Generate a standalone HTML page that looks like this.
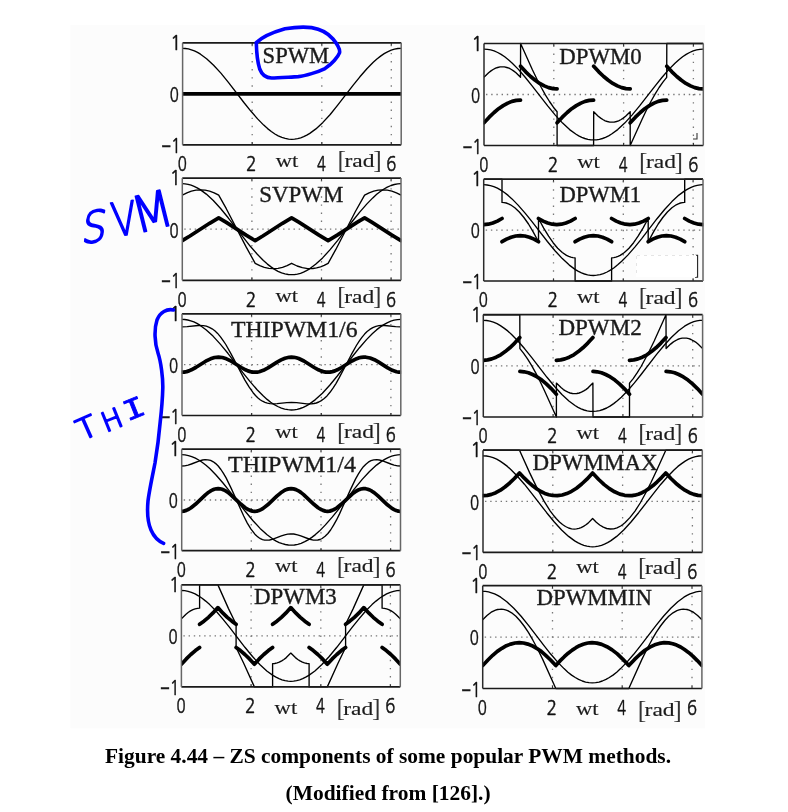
<!DOCTYPE html>
<html><head><meta charset="utf-8"><title>Figure 4.44</title><style>
html,body{margin:0;padding:0;background:#fff;}
svg{display:block;}
.gv{stroke:#777;stroke-width:1.3;stroke-dasharray:1.4 6.7;fill:none;}
.gh{stroke:#777;stroke-width:1.3;stroke-dasharray:1.4 3.8;fill:none;}
.tk{stroke:#333;stroke-width:1.1;}
.th{stroke:#000;stroke-width:1.35;fill:none;stroke-linejoin:round;}
.tc{stroke:#000;stroke-width:3.7;fill:none;stroke-linejoin:round;stroke-linecap:round;}
.bh{stroke:#1a1a1a;stroke-width:1.7;}
.bv{stroke:#666;stroke-width:1.5;}
.bvd{stroke:#2a2a2a;stroke-width:1.5;}
.t{font-family:"Liberation Serif","Times New Roman",serif;font-size:22.3px;fill:#1a1a1a;stroke:#1a1a1a;stroke-width:0.35;}
.n{font-family:"NanumGothic","Liberation Sans",Arial,sans-serif;font-size:20.3px;fill:#111;stroke:#111;stroke-width:0.5;}
.w{font-family:"Liberation Serif","Times New Roman",serif;font-size:18.8px;fill:#1a1a1a;stroke:#1a1a1a;stroke-width:0.15;}
.br{font-family:"Liberation Serif","Times New Roman",serif;font-size:25.5px;fill:#333;}
.cap{font-family:"Liberation Serif","Times New Roman",serif;font-weight:bold;font-size:20.8px;fill:#000;}
.hw{fill:none;stroke:#0000ff;stroke-width:3.6;stroke-linecap:round;stroke-linejoin:round;}
.hwt{font-family:"DejaVu Sans",sans-serif;font-weight:200;fill:#0000ff;stroke:#0000ff;stroke-width:1.8;stroke-linejoin:round;}
.hwm{font-family:"Liberation Mono",monospace;fill:#0000ff;stroke:#0000ff;stroke-width:0.8;stroke-linejoin:round;}
</style></head>
<body><svg width="788" height="812" viewBox="0 0 788 812">
<rect width="788" height="812" fill="#fff"/>
<rect x="70.5" y="25" width="634.5" height="703.3" fill="#fcfcfc"/>
<line x1="252.2" y1="44.8" x2="252.2" y2="143.8" class="gv"/>
<line x1="252.2" y1="42.8" x2="252.2" y2="45.2" class="tk"/>
<line x1="252.2" y1="144.8" x2="252.2" y2="142.3" class="tk"/>
<line x1="321.8" y1="44.8" x2="321.8" y2="143.8" class="gv"/>
<line x1="321.8" y1="42.8" x2="321.8" y2="45.2" class="tk"/>
<line x1="321.8" y1="144.8" x2="321.8" y2="142.3" class="tk"/>
<line x1="391.3" y1="44.8" x2="391.3" y2="143.8" class="gv"/>
<line x1="391.3" y1="42.8" x2="391.3" y2="45.2" class="tk"/>
<line x1="391.3" y1="144.8" x2="391.3" y2="142.3" class="tk"/>
<line x1="184.6" y1="93.8" x2="400.2" y2="93.8" class="gh"/>
<clipPath id="cL0"><rect x="182.3" y="41.2" width="219.2" height="105.1"/></clipPath>
<g clip-path="url(#cL0)">
<path d="M182.6 48.3L185.3 48.5L188.4 48.9L191.4 49.8L194.4 50.9L197.5 52.4L200.5 54.2L206.6 58.7L213.6 65.2L220.9 73.1L228.4 82.4L243.9 102.5L250.6 110.8L257.6 118.9L263.7 125.1L267.6 128.6L271.3 131.5L274.9 134.0L278.2 135.8L281.9 137.4L285.2 138.4L288.6 139.1L291.9 139.3L294.6 139.1L297.7 138.7L300.7 137.8L303.7 136.7L306.8 135.2L309.8 133.4L315.9 128.9L322.9 122.4L330.2 114.5L337.7 105.2L353.2 85.1L359.9 76.8L366.9 68.7L373.0 62.5L376.9 59.0L380.6 56.1L384.2 53.6L387.5 51.8L391.2 50.2L394.5 49.2L397.9 48.5L401.2 48.3" class="th"/>
<path d="M182.6 93.8L401.2 93.8" class="tc"/>
</g>
<line x1="182.6" y1="42.8" x2="401.2" y2="42.8" class="bh"/>
<line x1="182.6" y1="144.8" x2="401.2" y2="144.8" class="bh"/>
<line x1="182.6" y1="42.8" x2="182.6" y2="144.8" class="bv"/>
<line x1="401.2" y1="42.8" x2="401.2" y2="144.8" class="bv"/>
<text x="262.6" y="62.5" textLength="66.5" lengthAdjust="spacingAndGlyphs" class="t">SPWM</text>
<text x="0" y="0" transform="translate(181.2 49.9) scale(0.90 1)" text-anchor="end" class="n">1</text>
<text x="0" y="0" transform="translate(178.8 102.1) scale(0.74 1)" text-anchor="end" class="n">0</text>
<text x="0" y="0" transform="translate(180.8 152.8) scale(0.80 1)" text-anchor="end" class="n">&#8722;1</text>
<text x="0" y="0" transform="translate(182.3 171.2) scale(0.74 1)" text-anchor="middle" class="n">0</text>
<text x="0" y="0" transform="translate(251.4 171.2) scale(0.86 1)" text-anchor="middle" class="n">2</text>
<text x="0" y="0" transform="translate(321.4 171.2) scale(0.72 1)" text-anchor="middle" class="n">4</text>
<text x="0" y="0" transform="translate(391.3 171.2) scale(0.82 1)" text-anchor="middle" class="n">6</text>
<text x="275.8" y="166.8" textLength="22.6" lengthAdjust="spacingAndGlyphs" class="w">wt</text>
<text x="337.6" y="168.4" class="br">[</text>
<text x="344.5" y="166.8" textLength="30" lengthAdjust="spacingAndGlyphs" class="w">rad</text>
<text x="373.2" y="168.4" class="br">]</text>
<line x1="251.9" y1="180.1" x2="251.9" y2="279.3" class="gv"/>
<line x1="251.9" y1="178.1" x2="251.9" y2="180.6" class="tk"/>
<line x1="251.9" y1="280.3" x2="251.9" y2="277.8" class="tk"/>
<line x1="321.5" y1="180.1" x2="321.5" y2="279.3" class="gv"/>
<line x1="321.5" y1="178.1" x2="321.5" y2="180.6" class="tk"/>
<line x1="321.5" y1="280.3" x2="321.5" y2="277.8" class="tk"/>
<line x1="391.1" y1="180.1" x2="391.1" y2="279.3" class="gv"/>
<line x1="391.1" y1="178.1" x2="391.1" y2="180.6" class="tk"/>
<line x1="391.1" y1="280.3" x2="391.1" y2="277.8" class="tk"/>
<line x1="184.3" y1="229.2" x2="400.0" y2="229.2" class="gh"/>
<clipPath id="cL1"><rect x="182.0" y="176.6" width="219.3" height="105.2"/></clipPath>
<g clip-path="url(#cL1)">
<path d="M182.3 183.7L185.0 183.8L188.1 184.3L191.1 185.1L194.1 186.3L197.2 187.8L200.2 189.6L206.3 194.1L213.3 200.5L220.6 208.5L228.2 217.8L243.7 237.9L250.3 246.3L257.3 254.3L263.4 260.5L267.4 264.1L271.0 266.9L274.6 269.4L278.0 271.3L281.6 272.9L285.0 273.9L288.3 274.5L291.6 274.7L294.4 274.6L297.4 274.1L300.5 273.3L303.5 272.1L306.5 270.6L309.6 268.8L315.6 264.3L322.6 257.9L329.9 249.9L337.5 240.6L353.0 220.5L359.7 212.1L366.7 204.1L372.8 197.9L376.7 194.3L380.3 191.5L384.0 189.0L387.3 187.1L391.0 185.5L394.3 184.5L397.7 183.9L401.0 183.7" class="th"/>
<path d="M182.3 195.1L186.9 192.8L191.4 191.1L196.0 190.1L200.5 189.8L205.1 190.1L209.6 191.1L214.2 192.8L218.7 195.1L226.3 208.7L246.1 246.9L255.2 263.3L259.8 265.6L264.3 267.3L268.9 268.3L273.4 268.6L278.0 268.3L282.5 267.3L287.1 265.6L291.6 263.3L297.1 266.0L302.3 267.7L307.7 268.6L312.9 268.5L316.6 267.9L320.5 266.8L324.2 265.4L328.1 263.3L335.7 249.7L355.4 211.5L364.6 195.1L369.1 192.8L373.7 191.1L378.2 190.1L382.8 189.8L387.3 190.1L391.9 191.1L396.4 192.8L401.0 195.1" class="th"/>
<path d="M182.3 240.6L189.9 236.0L209.6 223.3L218.7 217.8L226.3 222.4L246.1 235.1L255.2 240.6L262.8 236.0L282.5 223.3L291.6 217.8L299.2 222.4L319.0 235.1L328.1 240.6L337.2 235.1L357.0 222.4L364.6 217.8L372.1 222.4L391.9 235.1L401.0 240.6" class="tc"/>
</g>
<line x1="182.3" y1="178.1" x2="401.0" y2="178.1" class="bh"/>
<line x1="182.3" y1="280.3" x2="401.0" y2="280.3" class="bh"/>
<line x1="182.3" y1="178.1" x2="182.3" y2="280.3" class="bv"/>
<line x1="401.0" y1="178.1" x2="401.0" y2="280.3" class="bv"/>
<text x="259.3" y="202.1" textLength="84.0" lengthAdjust="spacingAndGlyphs" class="t">SVPWM</text>
<text x="0" y="0" transform="translate(180.9 185.2) scale(0.90 1)" text-anchor="end" class="n">1</text>
<text x="0" y="0" transform="translate(178.5 237.5) scale(0.74 1)" text-anchor="end" class="n">0</text>
<text x="0" y="0" transform="translate(180.5 288.3) scale(0.80 1)" text-anchor="end" class="n">&#8722;1</text>
<text x="0" y="0" transform="translate(182.0 306.7) scale(0.74 1)" text-anchor="middle" class="n">0</text>
<text x="0" y="0" transform="translate(251.1 306.7) scale(0.86 1)" text-anchor="middle" class="n">2</text>
<text x="0" y="0" transform="translate(321.1 306.7) scale(0.72 1)" text-anchor="middle" class="n">4</text>
<text x="0" y="0" transform="translate(391.1 306.7) scale(0.82 1)" text-anchor="middle" class="n">6</text>
<text x="275.5" y="301.8" textLength="22.6" lengthAdjust="spacingAndGlyphs" class="w">wt</text>
<text x="337.3" y="304.2" class="br">[</text>
<text x="344.2" y="302.6" textLength="30" lengthAdjust="spacingAndGlyphs" class="w">rad</text>
<text x="372.9" y="304.2" class="br">]</text>
<line x1="251.6" y1="315.8" x2="251.6" y2="414.5" class="gv"/>
<line x1="251.6" y1="313.8" x2="251.6" y2="316.3" class="tk"/>
<line x1="251.6" y1="415.5" x2="251.6" y2="413.0" class="tk"/>
<line x1="321.3" y1="315.8" x2="321.3" y2="414.5" class="gv"/>
<line x1="321.3" y1="313.8" x2="321.3" y2="316.3" class="tk"/>
<line x1="321.3" y1="415.5" x2="321.3" y2="413.0" class="tk"/>
<line x1="390.9" y1="315.8" x2="390.9" y2="414.5" class="gv"/>
<line x1="390.9" y1="313.8" x2="390.9" y2="316.3" class="tk"/>
<line x1="390.9" y1="415.5" x2="390.9" y2="413.0" class="tk"/>
<line x1="184.0" y1="364.6" x2="399.8" y2="364.6" class="gh"/>
<clipPath id="cL2"><rect x="181.7" y="312.3" width="219.4" height="104.7"/></clipPath>
<g clip-path="url(#cL2)">
<path d="M182.0 319.3L184.7 319.5L187.8 320.0L190.8 320.8L193.9 321.9L196.9 323.4L199.9 325.2L206.0 329.7L213.0 336.1L220.3 344.1L227.9 353.3L243.4 373.3L250.1 381.6L257.1 389.7L263.1 395.8L267.1 399.4L270.7 402.2L274.4 404.7L277.7 406.5L281.4 408.1L284.7 409.1L288.1 409.7L291.4 410.0L294.1 409.8L297.2 409.3L300.2 408.5L303.3 407.4L306.3 405.9L309.3 404.1L315.4 399.6L322.4 393.2L329.7 385.2L337.3 376.0L352.8 356.0L359.5 347.7L366.5 339.6L372.5 333.5L376.5 329.9L380.1 327.1L383.8 324.6L387.1 322.8L390.8 321.2L394.1 320.2L397.5 319.6L400.8 319.3" class="th"/>
<path d="M182.0 326.9L187.2 326.7L198.1 325.5L203.3 325.6L206.3 326.2L209.3 327.3L212.1 328.8L214.8 330.8L217.6 333.4L220.3 336.6L223.0 340.3L225.8 344.5L230.9 353.6L244.9 380.1L249.2 387.2L253.1 392.7L255.5 395.5L257.7 397.7L260.1 399.7L262.5 401.2L265.0 402.4L267.4 403.2L270.1 403.7L273.2 403.9L277.1 403.7L286.8 402.6L291.4 402.4L296.6 402.6L306.9 403.8L311.5 403.8L313.9 403.5L316.3 403.0L318.8 402.0L320.9 400.9L323.9 398.7L327.0 395.9L330.0 392.3L333.0 388.1L336.1 383.3L339.4 377.4L351.3 354.7L356.4 345.5L359.2 341.2L361.9 337.4L364.6 334.1L367.1 331.6L369.8 329.4L372.8 327.6L375.9 326.3L378.9 325.7L381.7 325.4L384.7 325.5L395.6 326.7L400.8 326.9" class="th"/>
<path d="M182.0 372.2L184.1 372.1L186.6 371.6L189.0 370.9L191.4 369.8L195.7 367.5L205.7 361.2L210.6 358.8L214.5 357.5L218.5 357.1L222.4 357.5L226.4 358.8L231.2 361.2L241.3 367.5L245.5 369.8L247.9 370.9L250.4 371.6L252.8 372.1L254.9 372.2L257.1 372.1L259.2 371.7L263.4 370.3L268.0 367.9L277.1 362.1L281.1 359.9L285.0 358.2L289.0 357.3L291.4 357.1L293.8 357.3L296.3 357.8L298.7 358.5L303.9 361.0L314.2 367.5L318.4 369.8L320.9 370.9L323.3 371.6L325.7 372.1L327.9 372.2L330.0 372.1L332.4 371.6L334.9 370.9L337.3 369.8L341.5 367.5L351.9 361.0L356.7 358.7L359.2 357.8L361.3 357.4L363.7 357.1L365.9 357.2L370.1 358.0L374.4 359.7L378.3 361.9L387.7 367.9L392.3 370.3L396.5 371.7L398.7 372.1L400.8 372.2" class="tc"/>
</g>
<line x1="182.0" y1="313.8" x2="400.8" y2="313.8" class="bh"/>
<line x1="182.0" y1="415.5" x2="400.8" y2="415.5" class="bh"/>
<line x1="182.0" y1="313.8" x2="182.0" y2="415.5" class="bv"/>
<line x1="400.8" y1="313.8" x2="400.8" y2="415.5" class="bv"/>
<text x="230.9" y="336.8" textLength="126.7" lengthAdjust="spacingAndGlyphs" class="t">THIPWM1/6</text>
<text x="0" y="0" transform="translate(180.6 320.9) scale(0.90 1)" text-anchor="end" class="n">1</text>
<text x="0" y="0" transform="translate(178.2 372.9) scale(0.74 1)" text-anchor="end" class="n">0</text>
<text x="0" y="0" transform="translate(180.2 423.5) scale(0.80 1)" text-anchor="end" class="n">&#8722;1</text>
<text x="0" y="0" transform="translate(181.7 441.9) scale(0.74 1)" text-anchor="middle" class="n">0</text>
<text x="0" y="0" transform="translate(250.8 441.9) scale(0.86 1)" text-anchor="middle" class="n">2</text>
<text x="0" y="0" transform="translate(320.9 441.9) scale(0.72 1)" text-anchor="middle" class="n">4</text>
<text x="0" y="0" transform="translate(390.9 441.9) scale(0.82 1)" text-anchor="middle" class="n">6</text>
<text x="275.2" y="438.0" textLength="22.6" lengthAdjust="spacingAndGlyphs" class="w">wt</text>
<text x="337.0" y="439.9" class="br">[</text>
<text x="343.9" y="438.3" textLength="30" lengthAdjust="spacingAndGlyphs" class="w">rad</text>
<text x="372.6" y="439.9" class="br">]</text>
<line x1="251.3" y1="451.2" x2="251.3" y2="549.7" class="gv"/>
<line x1="251.3" y1="449.2" x2="251.3" y2="451.7" class="tk"/>
<line x1="251.3" y1="550.7" x2="251.3" y2="548.2" class="tk"/>
<line x1="321.0" y1="451.2" x2="321.0" y2="549.7" class="gv"/>
<line x1="321.0" y1="449.2" x2="321.0" y2="451.7" class="tk"/>
<line x1="321.0" y1="550.7" x2="321.0" y2="548.2" class="tk"/>
<line x1="390.6" y1="451.2" x2="390.6" y2="549.7" class="gv"/>
<line x1="390.6" y1="449.2" x2="390.6" y2="451.7" class="tk"/>
<line x1="390.6" y1="550.7" x2="390.6" y2="548.2" class="tk"/>
<line x1="183.7" y1="500.0" x2="399.5" y2="500.0" class="gh"/>
<clipPath id="cL3"><rect x="181.4" y="447.7" width="219.4" height="104.5"/></clipPath>
<g clip-path="url(#cL3)">
<path d="M181.7 454.7L185.0 454.9L188.4 455.6L191.7 456.6L195.4 458.2L198.7 460.0L202.4 462.5L206.0 465.3L210.0 468.8L216.0 475.0L223.0 483.0L229.7 491.3L245.2 511.3L252.8 520.5L260.1 528.4L267.1 534.8L273.2 539.3L276.2 541.1L279.2 542.6L282.3 543.7L285.3 544.5L288.4 545.0L291.1 545.2L294.4 545.0L297.8 544.3L301.1 543.3L304.8 541.7L308.1 539.9L311.8 537.4L315.4 534.6L319.4 531.1L325.4 524.9L332.4 516.9L339.1 508.6L354.6 488.6L362.2 479.4L369.5 471.5L376.5 465.1L382.6 460.6L385.6 458.8L388.6 457.3L391.7 456.2L394.7 455.4L397.8 454.9L400.5 454.7" class="th"/>
<path d="M181.7 466.0L184.7 465.8L188.1 465.1L191.4 464.0L200.2 460.7L202.7 460.0L205.1 459.7L207.8 459.8L210.6 460.4L213.3 461.8L215.7 463.6L218.2 466.0L220.9 469.5L223.3 473.2L226.1 477.9L231.2 488.4L243.7 516.0L247.3 523.1L251.0 529.1L254.9 534.2L256.8 536.0L258.6 537.5L260.4 538.6L262.5 539.6L264.7 540.1L266.8 540.2L269.5 540.0L272.3 539.3L281.4 535.9L284.7 534.8L287.8 534.1L290.5 533.9L293.8 534.0L297.5 534.8L300.8 535.9L309.0 539.0L313.3 540.1L315.7 540.2L317.8 540.0L320.0 539.5L322.1 538.5L325.1 536.3L327.9 533.5L330.6 530.0L333.6 525.2L336.4 520.2L339.4 514.1L350.7 489.1L355.5 479.1L358.3 474.2L360.7 470.4L363.4 466.7L365.9 464.2L368.3 462.2L371.0 460.7L373.8 459.9L376.8 459.7L379.2 460.0L382.0 460.7L390.8 464.0L394.1 465.1L397.5 465.8L400.5 466.0" class="th"/>
<path d="M181.7 511.3L183.8 511.1L186.3 510.4L188.7 509.3L191.1 507.7L195.4 504.3L205.4 494.8L207.8 492.8L210.3 491.2L212.4 490.0L214.2 489.3L216.3 488.8L218.2 488.6L220.0 488.8L222.1 489.3L223.9 490.0L226.1 491.2L228.5 492.8L230.9 494.8L241.0 504.3L245.2 507.7L247.6 509.3L250.1 510.4L252.5 511.1L254.6 511.3L256.8 511.1L258.9 510.5L261.0 509.6L263.1 508.4L267.7 504.8L276.8 496.2L280.8 492.8L284.7 490.3L286.8 489.4L288.7 488.9L291.1 488.6L293.5 488.9L296.0 489.6L298.4 490.8L300.8 492.4L303.6 494.6L313.9 504.3L318.1 507.7L320.6 509.3L323.0 510.4L325.4 511.1L327.6 511.3L329.7 511.1L332.1 510.4L334.6 509.3L337.0 507.7L341.2 504.3L351.6 494.6L354.0 492.6L356.4 491.0L358.9 489.7L361.0 489.0L363.4 488.7L365.6 488.7L367.7 489.2L369.8 490.0L371.9 491.2L374.1 492.6L378.0 495.9L387.4 504.8L392.0 508.4L394.1 509.6L396.2 510.5L398.4 511.1L400.5 511.3" class="tc"/>
</g>
<line x1="181.7" y1="449.2" x2="400.5" y2="449.2" class="bh"/>
<line x1="181.7" y1="550.7" x2="400.5" y2="550.7" class="bh"/>
<line x1="181.7" y1="449.2" x2="181.7" y2="550.7" class="bv"/>
<line x1="400.5" y1="449.2" x2="400.5" y2="550.7" class="bv"/>
<text x="228.1" y="471.5" textLength="127.9" lengthAdjust="spacingAndGlyphs" class="t">THIPWM1/4</text>
<text x="0" y="0" transform="translate(180.3 456.3) scale(0.90 1)" text-anchor="end" class="n">1</text>
<text x="0" y="0" transform="translate(177.9 508.3) scale(0.74 1)" text-anchor="end" class="n">0</text>
<text x="0" y="0" transform="translate(179.9 558.7) scale(0.80 1)" text-anchor="end" class="n">&#8722;1</text>
<text x="0" y="0" transform="translate(181.4 577.1) scale(0.74 1)" text-anchor="middle" class="n">0</text>
<text x="0" y="0" transform="translate(250.5 577.1) scale(0.86 1)" text-anchor="middle" class="n">2</text>
<text x="0" y="0" transform="translate(320.6 577.1) scale(0.72 1)" text-anchor="middle" class="n">4</text>
<text x="0" y="0" transform="translate(390.6 577.1) scale(0.82 1)" text-anchor="middle" class="n">6</text>
<text x="274.9" y="571.5" textLength="22.6" lengthAdjust="spacingAndGlyphs" class="w">wt</text>
<text x="336.7" y="573.8" class="br">[</text>
<text x="343.6" y="572.1" textLength="30" lengthAdjust="spacingAndGlyphs" class="w">rad</text>
<text x="372.3" y="573.8" class="br">]</text>
<line x1="251.1" y1="586.9" x2="251.1" y2="685.9" class="gv"/>
<line x1="251.1" y1="584.9" x2="251.1" y2="587.4" class="tk"/>
<line x1="251.1" y1="686.9" x2="251.1" y2="684.4" class="tk"/>
<line x1="320.8" y1="586.9" x2="320.8" y2="685.9" class="gv"/>
<line x1="320.8" y1="584.9" x2="320.8" y2="587.4" class="tk"/>
<line x1="320.8" y1="686.9" x2="320.8" y2="684.4" class="tk"/>
<line x1="390.4" y1="586.9" x2="390.4" y2="685.9" class="gv"/>
<line x1="390.4" y1="584.9" x2="390.4" y2="587.4" class="tk"/>
<line x1="390.4" y1="686.9" x2="390.4" y2="684.4" class="tk"/>
<line x1="183.4" y1="635.9" x2="399.3" y2="635.9" class="gh"/>
<clipPath id="cL4"><rect x="181.1" y="583.4" width="219.5" height="105.0"/></clipPath>
<g clip-path="url(#cL4)">
<path d="M181.4 590.5L184.7 590.7L188.1 591.3L191.4 592.3L195.1 593.9L198.4 595.8L202.1 598.2L205.7 601.1L209.7 604.6L215.8 610.8L222.7 618.9L229.4 627.2L244.9 647.3L252.5 656.5L259.8 664.5L266.8 671.0L272.9 675.4L276.0 677.2L279.0 678.7L282.0 679.9L285.1 680.7L288.1 681.2L290.9 681.3L293.6 681.2L296.6 680.7L299.7 679.9L302.7 678.7L305.7 677.2L308.8 675.4L314.9 671.0L321.9 664.5L329.2 656.5L336.8 647.3L352.3 627.2L359.0 618.9L365.9 610.8L372.0 604.6L376.0 601.1L379.6 598.2L383.3 595.8L386.6 593.9L390.3 592.3L393.6 591.3L397.0 590.7L400.3 590.5" class="th"/>
<path d="M181.4 618.7L186.0 614.2L188.4 612.3L190.5 610.9L193.0 609.6L195.1 608.9L197.5 608.3L199.6 608.2L199.6 584.9L217.9 584.9L228.5 608.6L236.1 624.3L236.1 647.5L243.7 663.2L254.4 686.9L272.6 686.9L272.6 663.6L274.7 663.5L277.2 662.9L279.3 662.2L281.7 660.9L283.9 659.5L286.3 657.6L290.8 653.1L295.4 657.6L297.8 659.5L300.0 660.9L302.4 662.2L304.5 662.9L307.0 663.5L309.1 663.6L309.1 686.9L327.3 686.9L338.0 663.2L345.6 647.5L345.6 624.3L353.2 608.6L363.8 584.9L382.1 584.9L382.1 608.2L384.2 608.3L386.6 608.9L388.7 609.6L391.2 610.9L393.3 612.3L395.7 614.2L400.3 618.7" class="th"/>
<path d="M181.4 664.2L186.3 658.9L190.8 654.5L195.4 650.6L199.6 647.5M199.6 624.3L203.9 621.2L208.5 617.3L213.0 612.9L217.9 607.6L222.7 612.9L227.3 617.3L231.9 621.2L236.1 624.3M236.1 647.5L240.4 650.6L244.9 654.5L249.5 658.9L254.4 664.2L259.2 658.9L263.8 654.5L268.4 650.6L272.6 647.5M272.6 624.3L276.9 621.2L281.4 617.3L286.0 612.9L290.8 607.6L295.7 612.9L300.3 617.3L304.8 621.2L309.1 624.3M309.1 647.5L313.3 650.6L317.9 654.5L322.5 658.9L327.3 664.2L332.2 658.9L336.8 654.5L341.3 650.6L345.6 647.5M345.6 624.3L349.8 621.2L354.4 617.3L359.0 612.9L363.8 607.6L368.7 612.9L373.2 617.3L377.8 621.2L382.1 624.3M382.1 647.5L386.3 650.6L390.9 654.5L395.4 658.9L400.3 664.2" class="tc"/>
</g>
<line x1="181.4" y1="584.9" x2="400.3" y2="584.9" class="bh"/>
<line x1="181.4" y1="686.9" x2="400.3" y2="686.9" class="bh"/>
<line x1="181.4" y1="584.9" x2="181.4" y2="686.9" class="bv"/>
<line x1="400.3" y1="584.9" x2="400.3" y2="686.9" class="bv"/>
<text x="254.0" y="603.8" textLength="82.7" lengthAdjust="spacingAndGlyphs" class="t">DPWM3</text>
<text x="0" y="0" transform="translate(180.0 592.0) scale(0.90 1)" text-anchor="end" class="n">1</text>
<text x="0" y="0" transform="translate(177.6 644.2) scale(0.74 1)" text-anchor="end" class="n">0</text>
<text x="0" y="0" transform="translate(179.6 694.9) scale(0.80 1)" text-anchor="end" class="n">&#8722;1</text>
<text x="0" y="0" transform="translate(181.1 713.3) scale(0.74 1)" text-anchor="middle" class="n">0</text>
<text x="0" y="0" transform="translate(250.3 713.3) scale(0.86 1)" text-anchor="middle" class="n">2</text>
<text x="0" y="0" transform="translate(320.4 713.3) scale(0.72 1)" text-anchor="middle" class="n">4</text>
<text x="0" y="0" transform="translate(390.4 713.3) scale(0.82 1)" text-anchor="middle" class="n">6</text>
<text x="274.6" y="714.3" textLength="22.6" lengthAdjust="spacingAndGlyphs" class="w">wt</text>
<text x="336.4" y="716.2" class="br">[</text>
<text x="343.3" y="714.6" textLength="30" lengthAdjust="spacingAndGlyphs" class="w">rad</text>
<text x="372.0" y="716.2" class="br">]</text>
<line x1="553.8" y1="45.5" x2="553.8" y2="144.5" class="gv"/>
<line x1="553.8" y1="43.5" x2="553.8" y2="46.0" class="tk"/>
<line x1="553.8" y1="145.5" x2="553.8" y2="143.0" class="tk"/>
<line x1="623.6" y1="45.5" x2="623.6" y2="144.5" class="gv"/>
<line x1="623.6" y1="43.5" x2="623.6" y2="46.0" class="tk"/>
<line x1="623.6" y1="145.5" x2="623.6" y2="143.0" class="tk"/>
<line x1="693.4" y1="45.5" x2="693.4" y2="144.5" class="gv"/>
<line x1="693.4" y1="43.5" x2="693.4" y2="46.0" class="tk"/>
<line x1="693.4" y1="145.5" x2="693.4" y2="143.0" class="tk"/>
<line x1="486.0" y1="94.5" x2="702.3" y2="94.5" class="gh"/>
<clipPath id="cR0"><rect x="483.7" y="42.0" width="219.9" height="105.0"/></clipPath>
<g clip-path="url(#cR0)">
<path d="M484.0 49.1L487.4 49.3L490.7 49.9L494.1 50.9L497.7 52.5L501.1 54.4L504.7 56.8L508.4 59.7L512.3 63.2L518.4 69.4L525.4 77.5L532.1 85.8L547.7 105.9L555.3 115.1L562.6 123.1L569.6 129.6L575.7 134.0L578.7 135.8L581.8 137.3L584.8 138.5L587.9 139.3L590.9 139.8L593.6 139.9L596.4 139.8L599.4 139.3L602.5 138.5L605.5 137.3L608.6 135.8L611.6 134.0L617.7 129.6L624.7 123.1L632.0 115.1L639.6 105.9L655.2 85.8L661.9 77.5L668.9 69.4L675.0 63.2L678.9 59.7L682.6 56.8L686.2 54.4L689.6 52.5L693.2 50.9L696.6 49.9L699.9 49.3L703.3 49.1" class="th"/>
<path d="M484.0 77.3L488.6 72.8L491.0 70.9L493.1 69.5L495.6 68.2L497.7 67.5L500.1 66.9L502.3 66.8L504.4 66.9L506.8 67.5L509.0 68.2L511.4 69.5L513.5 70.9L516.0 72.8L520.5 77.3L520.6 43.5L532.4 69.8L537.0 79.2L541.3 87.5L545.5 95.1L549.5 101.5L553.4 107.2L557.1 111.7L557.1 145.5L593.6 145.5L593.7 111.7L598.2 116.2L600.7 118.1L602.8 119.5L605.2 120.8L607.4 121.5L609.8 122.1L611.9 122.2L614.1 122.1L616.5 121.5L618.6 120.8L621.1 119.5L623.2 118.1L625.6 116.2L630.2 111.7L630.2 145.5L642.1 119.2L646.6 109.8L650.9 101.5L655.2 93.9L659.1 87.5L663.1 81.8L666.7 77.3L666.8 43.5L703.3 43.5" class="th"/>
<path d="M484.0 122.8L489.2 117.2L494.1 112.5L498.6 108.7L503.2 105.6L507.8 103.1L512.0 101.4L516.3 100.4L520.5 100.1M520.6 66.2L525.7 71.8L530.6 76.5L535.2 80.3L539.7 83.4L544.3 85.9L548.6 87.6L552.8 88.6L557.1 88.9M557.1 122.8L562.3 117.2L567.2 112.5L571.7 108.7L576.3 105.6L580.9 103.1L585.1 101.4L589.4 100.4L593.6 100.1M593.7 66.2L598.8 71.8L603.7 76.5L608.3 80.3L612.8 83.4L617.4 85.9L621.7 87.6L625.9 88.6L630.2 88.9M630.2 122.8L635.4 117.2L640.3 112.5L644.8 108.7L649.4 105.6L654.0 103.1L658.2 101.4L662.5 100.4L666.7 100.1M666.8 66.2L671.9 71.8L676.8 76.5L681.4 80.3L685.9 83.4L690.5 85.9L694.8 87.6L699.0 88.6L703.3 88.9" class="tc"/>
</g>
<line x1="484.0" y1="43.5" x2="703.3" y2="43.5" class="bh"/>
<line x1="484.0" y1="145.5" x2="703.3" y2="145.5" class="bh"/>
<line x1="484.0" y1="43.5" x2="484.0" y2="145.5" class="bvd"/>
<line x1="703.3" y1="43.5" x2="703.3" y2="145.5" class="bv"/>
<text x="559.3" y="64.1" textLength="82.5" lengthAdjust="spacingAndGlyphs" class="t">DPWM0</text>
<text x="0" y="0" transform="translate(482.6 50.6) scale(0.90 1)" text-anchor="end" class="n">1</text>
<text x="0" y="0" transform="translate(480.2 102.8) scale(0.74 1)" text-anchor="end" class="n">0</text>
<text x="0" y="0" transform="translate(482.2 153.5) scale(0.80 1)" text-anchor="end" class="n">&#8722;1</text>
<text x="0" y="0" transform="translate(483.7 171.9) scale(0.74 1)" text-anchor="middle" class="n">0</text>
<text x="0" y="0" transform="translate(553.0 171.9) scale(0.86 1)" text-anchor="middle" class="n">2</text>
<text x="0" y="0" transform="translate(623.2 171.9) scale(0.72 1)" text-anchor="middle" class="n">4</text>
<text x="0" y="0" transform="translate(693.4 171.9) scale(0.82 1)" text-anchor="middle" class="n">6</text>
<text x="577.2" y="167.6" textLength="22.6" lengthAdjust="spacingAndGlyphs" class="w">wt</text>
<text x="639.0" y="170.0" class="br">[</text>
<text x="645.9" y="168.3" textLength="30" lengthAdjust="spacingAndGlyphs" class="w">rad</text>
<text x="674.6" y="170.0" class="br">]</text>
<line x1="553.5" y1="181.2" x2="553.5" y2="280.0" class="gv"/>
<line x1="553.5" y1="179.2" x2="553.5" y2="181.7" class="tk"/>
<line x1="553.5" y1="281.0" x2="553.5" y2="278.5" class="tk"/>
<line x1="623.3" y1="181.2" x2="623.3" y2="280.0" class="gv"/>
<line x1="623.3" y1="179.2" x2="623.3" y2="181.7" class="tk"/>
<line x1="623.3" y1="281.0" x2="623.3" y2="278.5" class="tk"/>
<line x1="693.1" y1="181.2" x2="693.1" y2="280.0" class="gv"/>
<line x1="693.1" y1="179.2" x2="693.1" y2="181.7" class="tk"/>
<line x1="693.1" y1="281.0" x2="693.1" y2="278.5" class="tk"/>
<line x1="485.7" y1="230.1" x2="702.0" y2="230.1" class="gh"/>
<clipPath id="cR1"><rect x="483.4" y="177.7" width="219.9" height="104.8"/></clipPath>
<g clip-path="url(#cR1)">
<path d="M483.7 184.7L487.1 185.0L490.4 185.6L493.8 186.6L497.4 188.2L500.8 190.1L504.4 192.5L508.1 195.4L512.0 198.9L518.1 205.1L525.1 213.1L531.8 221.4L547.4 241.5L555.0 250.7L562.3 258.6L569.3 265.1L575.4 269.6L578.4 271.4L581.5 272.9L584.5 274.0L587.6 274.8L590.6 275.3L593.4 275.5L596.7 275.2L600.1 274.6L603.4 273.6L607.1 272.0L610.4 270.1L614.1 267.7L617.7 264.8L621.7 261.3L627.8 255.1L634.8 247.1L641.5 238.8L657.0 218.7L664.6 209.5L671.9 201.6L678.9 195.1L685.0 190.6L688.1 188.8L691.1 187.3L694.2 186.2L697.2 185.4L700.3 184.9L703.0 184.7" class="th"/>
<path d="M483.7 179.2L502.0 179.2L502.0 202.4L504.1 202.6L506.2 203.0L508.4 203.8L510.5 204.8L514.8 207.7L519.3 212.0L523.9 217.5L528.5 224.0L533.3 232.1L538.5 241.7L538.5 218.5L543.7 228.1L548.6 236.2L553.1 242.7L557.7 248.2L562.3 252.5L566.5 255.4L568.7 256.4L570.8 257.2L572.9 257.6L575.1 257.8L575.1 281.0L611.6 281.0L611.6 257.8L613.8 257.6L615.9 257.2L618.0 256.4L620.2 255.4L624.4 252.5L629.0 248.2L633.6 242.7L638.1 236.2L643.0 228.1L648.2 218.5L648.2 241.7L653.4 232.1L658.2 224.0L662.8 217.5L667.4 212.0L671.9 207.7L676.2 204.8L678.3 203.8L680.5 203.0L682.6 202.6L684.7 202.4L684.7 179.2L703.0 179.2" class="th"/>
<path d="M483.7 224.6L488.3 224.2L492.8 223.0L497.4 221.1L502.0 218.5M502.0 241.7L506.5 239.1L511.1 237.2L515.7 236.0L520.2 235.6L524.8 236.0L529.4 237.2L534.0 239.1L538.5 241.7M538.5 218.5L543.1 221.1L547.7 223.0L552.2 224.2L556.8 224.6L561.4 224.2L565.9 223.0L570.5 221.1L575.1 218.5M575.1 241.7L579.6 239.1L584.2 237.2L588.8 236.0L593.3 235.6L597.9 236.0L602.5 237.2L607.1 239.1L611.6 241.7M611.6 218.5L616.2 221.1L620.8 223.0L625.3 224.2L629.9 224.6L634.5 224.2L639.0 223.0L643.6 221.1L648.2 218.5M648.2 241.7L652.7 239.1L657.3 237.2L661.9 236.0L666.4 235.6L671.0 236.0L675.6 237.2L680.2 239.1L684.7 241.7M684.7 218.5L689.3 221.1L693.9 223.0L698.4 224.2L703.0 224.6" class="tc"/>
</g>
<line x1="483.7" y1="179.2" x2="703.0" y2="179.2" class="bh"/>
<line x1="483.7" y1="281.0" x2="703.0" y2="281.0" class="bh"/>
<line x1="483.7" y1="179.2" x2="483.7" y2="281.0" class="bvd"/>
<line x1="703.0" y1="179.2" x2="703.0" y2="281.0" class="bv"/>
<text x="559.4" y="202.4" textLength="81.7" lengthAdjust="spacingAndGlyphs" class="t">DPWM1</text>
<text x="0" y="0" transform="translate(482.3 186.3) scale(0.90 1)" text-anchor="end" class="n">1</text>
<text x="0" y="0" transform="translate(479.9 238.4) scale(0.74 1)" text-anchor="end" class="n">0</text>
<text x="0" y="0" transform="translate(481.9 289.0) scale(0.80 1)" text-anchor="end" class="n">&#8722;1</text>
<text x="0" y="0" transform="translate(483.4 307.4) scale(0.74 1)" text-anchor="middle" class="n">0</text>
<text x="0" y="0" transform="translate(552.7 307.4) scale(0.86 1)" text-anchor="middle" class="n">2</text>
<text x="0" y="0" transform="translate(622.9 307.4) scale(0.72 1)" text-anchor="middle" class="n">4</text>
<text x="0" y="0" transform="translate(693.1 307.4) scale(0.82 1)" text-anchor="middle" class="n">6</text>
<text x="576.9" y="302.8" textLength="22.6" lengthAdjust="spacingAndGlyphs" class="w">wt</text>
<text x="638.7" y="305.2" class="br">[</text>
<text x="645.6" y="303.6" textLength="30" lengthAdjust="spacingAndGlyphs" class="w">rad</text>
<text x="674.3" y="305.2" class="br">]</text>
<line x1="553.1" y1="316.7" x2="553.1" y2="416.0" class="gv"/>
<line x1="553.1" y1="314.7" x2="553.1" y2="317.2" class="tk"/>
<line x1="553.1" y1="417.0" x2="553.1" y2="414.5" class="tk"/>
<line x1="622.9" y1="316.7" x2="622.9" y2="416.0" class="gv"/>
<line x1="622.9" y1="314.7" x2="622.9" y2="317.2" class="tk"/>
<line x1="622.9" y1="417.0" x2="622.9" y2="414.5" class="tk"/>
<line x1="692.7" y1="316.7" x2="692.7" y2="416.0" class="gv"/>
<line x1="692.7" y1="314.7" x2="692.7" y2="317.2" class="tk"/>
<line x1="692.7" y1="417.0" x2="692.7" y2="414.5" class="tk"/>
<line x1="485.3" y1="365.9" x2="701.6" y2="365.9" class="gh"/>
<clipPath id="cR2"><rect x="483.0" y="313.2" width="219.9" height="105.3"/></clipPath>
<g clip-path="url(#cR2)">
<path d="M483.3 320.3L486.7 320.5L490.0 321.1L493.4 322.2L497.0 323.7L500.4 325.6L504.0 328.1L507.7 330.9L511.6 334.5L517.7 340.7L524.7 348.8L531.4 357.2L547.0 377.3L554.6 386.5L561.9 394.5L568.9 401.0L575.0 405.5L578.0 407.3L581.1 408.8L584.1 410.0L587.2 410.8L590.2 411.3L593.0 411.4L596.3 411.2L599.7 410.6L603.0 409.5L606.7 408.0L610.0 406.1L613.7 403.6L617.3 400.8L621.3 397.2L627.4 391.0L634.4 382.9L641.1 374.5L656.6 354.4L664.2 345.2L671.5 337.2L678.5 330.7L684.6 326.2L687.7 324.4L690.7 322.9L693.8 321.7L696.8 320.9L699.9 320.4L702.6 320.3" class="th"/>
<path d="M483.3 314.7L519.8 314.7L519.9 348.6L523.5 353.1L527.5 358.8L531.4 365.2L535.7 372.9L540.0 381.2L544.5 390.7L556.4 417.0L556.4 383.1L561.0 387.6L563.4 389.6L565.5 390.9L568.0 392.2L570.1 393.0L572.5 393.5L574.7 393.6L576.8 393.5L579.2 393.0L581.4 392.2L583.8 390.9L585.9 389.6L588.4 387.6L592.9 383.1L593.0 417.0L629.5 417.0L629.5 383.1L633.2 378.6L637.1 372.9L641.1 366.5L645.3 358.8L649.6 350.5L654.2 341.0L666.0 314.7L666.1 348.6L670.6 344.1L673.1 342.1L675.2 340.8L677.6 339.5L679.8 338.7L682.2 338.2L684.3 338.1L686.5 338.2L688.9 338.7L691.0 339.5L693.5 340.8L695.6 342.1L698.0 344.1L702.6 348.6" class="th"/>
<path d="M483.3 360.3L487.6 359.9L491.8 358.9L496.1 357.2L500.7 354.8L505.2 351.6L509.8 347.8L514.7 343.1L519.8 337.5M519.9 371.4L524.1 371.8L528.4 372.8L532.6 374.5L537.2 376.9L541.8 380.1L546.3 383.9L551.2 388.6L556.4 394.2M556.4 360.3L560.7 359.9L564.9 358.9L569.2 357.2L573.8 354.8L578.3 351.6L582.9 347.8L587.8 343.1L592.9 337.5M593.0 371.4L597.2 371.8L601.5 372.8L605.7 374.5L610.3 376.9L614.9 380.1L619.4 383.9L624.3 388.6L629.5 394.2M629.5 360.3L633.8 359.9L638.0 358.9L642.3 357.2L646.9 354.8L651.4 351.6L656.0 347.8L660.9 343.1L666.0 337.5M666.1 371.4L670.3 371.8L674.6 372.8L678.8 374.5L683.4 376.9L688.0 380.1L692.5 383.9L697.4 388.6L702.6 394.2" class="tc"/>
</g>
<line x1="483.3" y1="314.7" x2="702.6" y2="314.7" class="bh"/>
<line x1="483.3" y1="417.0" x2="702.6" y2="417.0" class="bh"/>
<line x1="483.3" y1="314.7" x2="483.3" y2="417.0" class="bvd"/>
<line x1="702.6" y1="314.7" x2="702.6" y2="417.0" class="bv"/>
<text x="558.4" y="335.0" textLength="83.3" lengthAdjust="spacingAndGlyphs" class="t">DPWM2</text>
<text x="0" y="0" transform="translate(481.9 321.8) scale(0.90 1)" text-anchor="end" class="n">1</text>
<text x="0" y="0" transform="translate(479.5 374.2) scale(0.74 1)" text-anchor="end" class="n">0</text>
<text x="0" y="0" transform="translate(481.5 425.0) scale(0.80 1)" text-anchor="end" class="n">&#8722;1</text>
<text x="0" y="0" transform="translate(483.0 443.4) scale(0.74 1)" text-anchor="middle" class="n">0</text>
<text x="0" y="0" transform="translate(552.3 443.4) scale(0.86 1)" text-anchor="middle" class="n">2</text>
<text x="0" y="0" transform="translate(622.5 443.4) scale(0.72 1)" text-anchor="middle" class="n">4</text>
<text x="0" y="0" transform="translate(692.7 443.4) scale(0.82 1)" text-anchor="middle" class="n">6</text>
<text x="576.5" y="438.8" textLength="22.6" lengthAdjust="spacingAndGlyphs" class="w">wt</text>
<text x="638.3" y="441.2" class="br">[</text>
<text x="645.2" y="439.6" textLength="30" lengthAdjust="spacingAndGlyphs" class="w">rad</text>
<text x="673.9" y="441.2" class="br">]</text>
<line x1="552.8" y1="452.2" x2="552.8" y2="551.4" class="gv"/>
<line x1="552.8" y1="450.2" x2="552.8" y2="452.7" class="tk"/>
<line x1="552.8" y1="552.4" x2="552.8" y2="549.9" class="tk"/>
<line x1="622.6" y1="452.2" x2="622.6" y2="551.4" class="gv"/>
<line x1="622.6" y1="450.2" x2="622.6" y2="452.7" class="tk"/>
<line x1="622.6" y1="552.4" x2="622.6" y2="549.9" class="tk"/>
<line x1="692.4" y1="452.2" x2="692.4" y2="551.4" class="gv"/>
<line x1="692.4" y1="450.2" x2="692.4" y2="452.7" class="tk"/>
<line x1="692.4" y1="552.4" x2="692.4" y2="549.9" class="tk"/>
<line x1="485.0" y1="501.3" x2="701.3" y2="501.3" class="gh"/>
<clipPath id="cR3"><rect x="482.7" y="448.7" width="219.9" height="105.2"/></clipPath>
<g clip-path="url(#cR3)">
<path d="M483.0 455.8L486.4 456.0L489.7 456.6L493.1 457.6L496.7 459.2L500.1 461.1L503.7 463.6L507.4 466.4L511.3 470.0L517.4 476.2L524.4 484.2L531.1 492.6L546.7 512.7L554.3 522.0L561.6 530.0L568.6 536.4L574.7 540.9L577.7 542.7L580.8 544.2L583.8 545.4L586.9 546.2L589.9 546.7L592.6 546.8L595.4 546.7L598.4 546.2L601.5 545.4L604.5 544.2L607.6 542.7L610.6 540.9L616.7 536.4L623.7 530.0L631.0 522.0L638.6 512.7L654.2 492.6L660.9 484.2L667.9 476.2L674.0 470.0L677.9 466.4L681.6 463.6L685.2 461.1L688.6 459.2L692.2 457.6L695.6 456.6L698.9 456.0L702.3 455.8" class="th"/>
<path d="M483.0 450.2L519.5 450.2L529.6 472.6L537.2 488.4L543.9 500.9L547.3 506.4L550.3 511.1L553.4 515.2L556.4 518.8L559.5 522.0L562.5 524.5L565.5 526.5L568.6 528.0L571.6 528.8L574.4 529.1L576.5 528.9L578.9 528.4L581.1 527.6L583.5 526.4L585.6 525.0L588.1 523.1L592.6 518.5L596.3 522.2L599.7 525.0L603.3 527.2L606.7 528.5L610.3 529.0L613.7 528.8L617.0 527.9L620.7 526.0L622.8 524.5L625.2 522.5L630.1 517.4L635.0 511.1L640.2 503.0L645.3 493.7L651.1 482.3L657.2 469.3L665.8 450.2L702.3 450.2" class="th"/>
<path d="M483.0 495.7L487.3 495.4L491.5 494.4L495.8 492.7L500.4 490.2L504.9 487.0L509.5 483.2L514.4 478.5L519.5 473.0L524.1 477.9L528.7 482.4L533.0 486.1L536.9 489.0L540.9 491.5L544.8 493.4L548.8 494.7L552.7 495.5L557.3 495.7L562.2 495.0L566.8 493.6L571.6 491.3L576.5 488.2L581.7 484.0L586.9 479.2L592.6 473.0L598.7 479.5L604.2 484.6L609.4 488.6L614.6 491.8L619.8 494.1L624.6 495.3L629.5 495.7L631.9 495.6L634.7 495.2L638.3 494.2L642.0 492.7L645.6 490.8L649.3 488.4L653.3 485.3L657.2 481.8L661.5 477.6L665.8 473.0L670.9 478.5L675.8 483.2L680.4 487.0L684.9 490.2L689.5 492.7L693.8 494.4L698.0 495.4L702.3 495.7" class="tc"/>
</g>
<line x1="483.0" y1="450.2" x2="702.3" y2="450.2" class="bh"/>
<line x1="483.0" y1="552.4" x2="702.3" y2="552.4" class="bh"/>
<line x1="483.0" y1="450.2" x2="483.0" y2="552.4" class="bvd"/>
<line x1="702.3" y1="450.2" x2="702.3" y2="552.4" class="bv"/>
<text x="532.4" y="469.9" textLength="125.2" lengthAdjust="spacingAndGlyphs" class="t">DPWMMAX</text>
<text x="0" y="0" transform="translate(481.6 457.3) scale(0.90 1)" text-anchor="end" class="n">1</text>
<text x="0" y="0" transform="translate(479.2 509.6) scale(0.74 1)" text-anchor="end" class="n">0</text>
<text x="0" y="0" transform="translate(481.2 560.4) scale(0.80 1)" text-anchor="end" class="n">&#8722;1</text>
<text x="0" y="0" transform="translate(482.7 578.8) scale(0.74 1)" text-anchor="middle" class="n">0</text>
<text x="0" y="0" transform="translate(552.0 578.8) scale(0.86 1)" text-anchor="middle" class="n">2</text>
<text x="0" y="0" transform="translate(622.2 578.8) scale(0.72 1)" text-anchor="middle" class="n">4</text>
<text x="0" y="0" transform="translate(692.4 578.8) scale(0.82 1)" text-anchor="middle" class="n">6</text>
<text x="576.2" y="572.6" textLength="22.6" lengthAdjust="spacingAndGlyphs" class="w">wt</text>
<text x="638.0" y="575.4" class="br">[</text>
<text x="644.9" y="573.8" textLength="30" lengthAdjust="spacingAndGlyphs" class="w">rad</text>
<text x="673.6" y="575.4" class="br">]</text>
<line x1="552.5" y1="587.7" x2="552.5" y2="687.5" class="gv"/>
<line x1="552.5" y1="585.7" x2="552.5" y2="588.2" class="tk"/>
<line x1="552.5" y1="688.5" x2="552.5" y2="686.0" class="tk"/>
<line x1="622.2" y1="587.7" x2="622.2" y2="687.5" class="gv"/>
<line x1="622.2" y1="585.7" x2="622.2" y2="588.2" class="tk"/>
<line x1="622.2" y1="688.5" x2="622.2" y2="686.0" class="tk"/>
<line x1="692.0" y1="587.7" x2="692.0" y2="687.5" class="gv"/>
<line x1="692.0" y1="585.7" x2="692.0" y2="588.2" class="tk"/>
<line x1="692.0" y1="688.5" x2="692.0" y2="686.0" class="tk"/>
<line x1="484.7" y1="637.1" x2="700.9" y2="637.1" class="gh"/>
<clipPath id="cR4"><rect x="482.4" y="584.2" width="219.8" height="105.8"/></clipPath>
<g clip-path="url(#cR4)">
<path d="M482.7 591.3L485.4 591.4L488.5 591.9L491.5 592.8L494.6 593.9L497.6 595.4L500.7 597.2L506.8 601.8L513.8 608.3L521.1 616.3L528.7 625.6L544.2 645.8L550.9 654.3L557.9 662.4L564.0 668.6L567.9 672.2L571.6 675.1L575.3 677.5L578.6 679.4L582.3 681.0L585.6 682.1L589.0 682.7L592.3 682.9L595.6 682.7L599.0 682.1L602.3 681.0L606.0 679.4L609.3 677.5L613.0 675.1L616.7 672.2L620.6 668.6L626.7 662.4L633.7 654.3L640.4 645.8L655.9 625.6L663.5 616.3L670.8 608.3L677.8 601.8L683.9 597.2L687.0 595.4L690.0 593.9L693.1 592.8L696.1 591.9L699.2 591.4L701.9 591.3" class="th"/>
<path d="M482.7 619.8L487.0 615.5L491.2 612.2L493.4 611.1L495.5 610.2L497.6 609.5L499.4 609.3L501.3 609.2L503.4 609.4L505.5 609.9L507.7 610.6L511.6 612.8L515.9 616.3L519.8 620.5L524.1 626.0L528.4 632.4L532.9 640.2L537.5 648.8L542.7 659.4L555.8 688.5L628.8 688.5L641.9 659.4L647.1 648.8L651.7 640.2L656.2 632.4L660.5 626.0L664.8 620.5L668.7 616.3L673.0 612.8L676.9 610.6L679.1 609.9L681.2 609.4L683.3 609.2L685.2 609.3L687.0 609.5L689.1 610.2L691.2 611.1L693.4 612.2L697.6 615.5L701.9 619.8" class="th"/>
<path d="M482.7 665.6L487.9 660.0L492.7 655.3L497.3 651.4L501.9 648.3L506.4 645.7L510.7 644.1L515.0 643.0L519.2 642.7L523.5 643.0L527.8 644.1L532.0 645.7L536.6 648.3L541.2 651.4L545.7 655.3L550.6 660.0L555.8 665.6L560.0 660.9L564.3 656.7L568.2 653.2L572.2 650.1L575.9 647.7L579.5 645.7L583.2 644.3L586.8 643.3L589.6 642.8L592.0 642.7L596.9 643.1L601.7 644.4L606.9 646.7L612.1 649.9L617.3 653.9L622.7 659.1L628.8 665.6L634.6 659.4L639.8 654.5L645.0 650.3L649.8 647.2L654.7 644.8L659.3 643.4L664.1 642.7L668.7 642.9L672.7 643.7L676.6 645.1L680.6 647.0L684.5 649.5L688.5 652.4L692.8 656.1L697.3 660.6L701.9 665.6" class="tc"/>
</g>
<line x1="482.7" y1="585.7" x2="701.9" y2="585.7" class="bh"/>
<line x1="482.7" y1="688.5" x2="701.9" y2="688.5" class="bh"/>
<line x1="482.7" y1="585.7" x2="482.7" y2="688.5" class="bvd"/>
<line x1="701.9" y1="585.7" x2="701.9" y2="688.5" class="bv"/>
<text x="536.6" y="604.6" textLength="115.3" lengthAdjust="spacingAndGlyphs" class="t">DPWMMIN</text>
<text x="0" y="0" transform="translate(481.3 592.8) scale(0.90 1)" text-anchor="end" class="n">1</text>
<text x="0" y="0" transform="translate(478.9 645.4) scale(0.74 1)" text-anchor="end" class="n">0</text>
<text x="0" y="0" transform="translate(480.9 696.5) scale(0.80 1)" text-anchor="end" class="n">&#8722;1</text>
<text x="0" y="0" transform="translate(482.4 714.9) scale(0.74 1)" text-anchor="middle" class="n">0</text>
<text x="0" y="0" transform="translate(551.7 714.9) scale(0.86 1)" text-anchor="middle" class="n">2</text>
<text x="0" y="0" transform="translate(621.8 714.9) scale(0.72 1)" text-anchor="middle" class="n">4</text>
<text x="0" y="0" transform="translate(692.0 714.9) scale(0.82 1)" text-anchor="middle" class="n">6</text>
<text x="575.9" y="715.1" textLength="22.6" lengthAdjust="spacingAndGlyphs" class="w">wt</text>
<text x="637.7" y="717.5" class="br">[</text>
<text x="644.6" y="715.9" textLength="30" lengthAdjust="spacingAndGlyphs" class="w">rad</text>
<text x="673.3" y="717.5" class="br">]</text>

<path d="M695.4 255.2H697.6V277.2H695" fill="none" stroke="#222" stroke-width="1.1"/>
<rect x="636" y="255" width="60" height="22" fill="#fff"/>
<path d="M636.5 256V276M637 255.5H694" fill="none" stroke="#ddd" stroke-width="0.8" stroke-dasharray="3 4"/>
<path d="M697 133V139H693" fill="none" stroke="#333" stroke-width="1.1"/>
<path class="hw" d="M256.3 42.6 C262 37 270 33 285 28.7 C296 27 306 27 311.6 27.6 C320 29 328 33 333 39 C338 45 340 50 339.6 52.6 C338 57 332 64 325 68.6 C318 72 305 76 298.3 76.6 C290 77 278 78 271.6 78 C266 78 262 75 259.7 69 C257.5 62 256.5 52 256.3 42.6"/>
<path class="hw" d="M173.5 310 C167 308.5 160 312 157 320 C154 329 154.5 343 158 353 C161 362 163 378 162.8 388 C162.5 400 161 415 160.2 422 C159.5 430 158 445 155 463 C152 478 149 492 148 501 C147 512 147.5 522 151 530 C154 537 158 541 163.6 543.3"/>
<text class="hwt" font-size="43" transform="translate(81 244) rotate(-8) skewX(-14) scale(0.9 1)">S</text>
<text class="hwt" font-size="46" transform="translate(113.5 236.5) rotate(-7) scale(0.8 1)">V</text>
<text class="hwt" font-size="50" transform="translate(137 233.5) rotate(-14) scale(0.93 1)">M</text>
<text class="hwt" font-size="29" transform="translate(82 441) rotate(-24) scale(1.1 1)">T</text>
<text class="hwt" font-size="27" transform="translate(106 432.5) rotate(-22)">H</text>
<text class="hwm" font-size="30" transform="translate(127.5 421.5) rotate(-22) scale(1.2 1)">I</text>

<text x="105" y="762.9" textLength="566" lengthAdjust="spacingAndGlyphs" class="cap">Figure 4.44 &#8211; ZS components of some popular PWM methods.</text>
<text x="285.6" y="800" textLength="205" lengthAdjust="spacingAndGlyphs" class="cap">(Modified from [126].)</text>
</svg></body></html>
